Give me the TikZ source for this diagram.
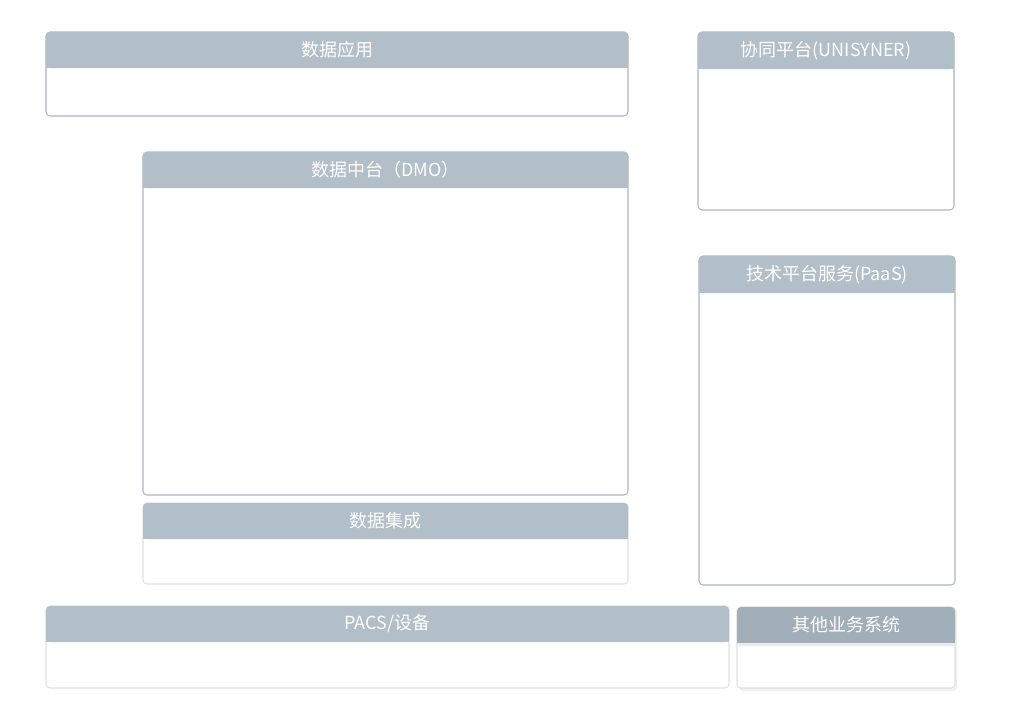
\documentclass[tikz,border=0pt]{standalone}
\usepackage{fontspec}
\newfontfamily\cjk{Noto Sans CJK SC}
\definecolor{hdr}{HTML}{B2BFC9}
\definecolor{hdrdark}{HTML}{A2AEB8}
\definecolor{bdr}{HTML}{A9B8C6}
\definecolor{bdrlight}{HTML}{DDE2E7}
\tikzset{
  panelbody/.style={draw=#1, line width=0.8pt, rounded corners=3pt, fill=white},
  panelhead/.style={fill=#1},
  paneltext/.style={text=white, font=\cjk\fontsize{13.5}{15}\selectfont, inner sep=0pt}
}
% name, x1, y1, x2, y2, yh, text, border, header
\newcommand{\mypanel}[9]{%
  \draw[panelbody=#8] (#2,#3) rectangle (#4,#5);
  \fill[panelhead=#9, rounded corners=3pt] (#2,#3) rectangle (#4,#6);
  \fill[panelhead=#9] (#2,{(#3+#6)/2}) rectangle (#4,#6);
  \node[paneltext] (#1) at ({(#2+#4)/2},{(#3+#6)/2}) {#7};
}
\begin{document}
\begin{tikzpicture}[x=0.75pt,y=-0.75pt]
\useasboundingbox (0,0) rectangle (1019,714);
\mypanel{app}{46}{32}{628}{116}{68}{数据应用}{bdr}{hdr}
\mypanel{uni}{698}{32}{954}{210}{69}{协同平台(UNISYNER)}{bdr}{hdr}
\mypanel{dmo}{143}{152}{628}{495}{188}{数据中台（DMO）}{bdr}{hdr}
\mypanel{paas}{699}{256}{955}{585}{293}{技术平台服务(PaaS)}{bdr}{hdr}
\mypanel{integ}{143}{503}{628}{584}{539}{数据集成}{bdrlight}{hdr}
\mypanel{pacs}{46}{606}{729}{688}{642}{PACS/设备}{bdrlight}{hdr}
\fill[black!6, rounded corners=3pt] (739,609) rectangle (957,691);
\mypanel{other}{737}{607}{955}{688}{643}{其他业务系统}{bdrlight}{hdrdark}
\fill[black!8] (737,643) rectangle (955,646);
\end{tikzpicture}
\end{document}
